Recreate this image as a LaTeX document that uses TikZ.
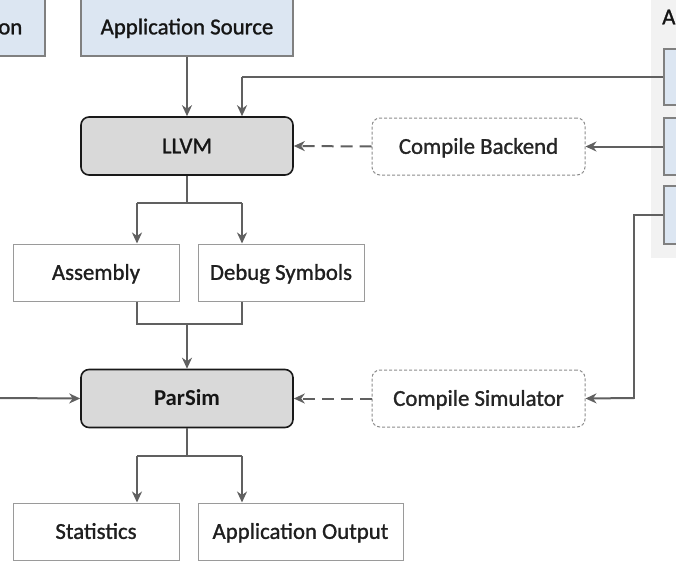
\documentclass[tikz,border=0pt]{standalone}
\usepackage{fontspec}
\setmainfont{Carlito}[UprightFeatures={RawFeature={embolden=1.2}}]
\usetikzlibrary{arrows.meta}
\definecolor{lineg}{HTML}{606060}
\definecolor{boxg}{HTML}{9A9A9A}
\definecolor{dboxg}{HTML}{8C8C8C}
\definecolor{blfill}{HTML}{DCE6F2}
\definecolor{blline}{HTML}{808080}
\definecolor{panel}{HTML}{F2F2F2}
\definecolor{coreg}{HTML}{D9D9D9}
\definecolor{txt}{HTML}{151515}
\begin{document}
\begin{tikzpicture}[x=1pt,y=-1pt,
  every node/.style={font=\fontsize{22.8}{27}\selectfont, text=txt, text height=14.7pt, text depth=0pt, inner sep=0pt},
  bluebox/.style={draw=blline, fill=blfill, line width=1.2pt, minimum width=212pt, minimum height=58pt},
  corebox/.style={draw=black!90, fill=coreg, line width=1.6pt, rounded corners=8pt, minimum width=212pt, minimum height=58pt},
  dashbox/.style={draw=dboxg, dash pattern=on 3pt off 2pt, line width=1pt, rounded corners=8pt, minimum width=213pt, minimum height=57pt, text=black!85},
  outbox/.style={draw=boxg, line width=1pt, minimum width=166pt, minimum height=57pt, text=black!88},
  arr/.style={draw=lineg, line width=2pt, -{Stealth[length=11pt,width=10pt,inset=3.5pt]}},
  darr/.style={arr, dash pattern=on 12pt off 7pt},
  thinl/.style={draw=lineg, line width=1.3pt},
]
\useasboundingbox (0,0) rectangle (676,562);
% right panel
\fill[panel] (651,-3) rectangle (680,258);
\node[anchor=west] (ptitle) at (662,17) {A};
\node[bluebox, minimum width=60pt, minimum height=56pt] (b1) at (694,77) {};
\node[bluebox, minimum width=60pt, minimum height=57pt] (b2) at (694,146.5) {};
\node[bluebox, minimum width=60pt, minimum height=58pt] (b3) at (694,215) {};
% left partial box
\node[bluebox, minimum width=150pt] (lbox) at (-30,27) {};
\node[anchor=east] (ltxt) at (22.5,27) {on};
% main column
\node[bluebox] (src) at (187,27) {Application Source};
\node[corebox] (llvm) at (187,146) {LLVM};
\node[dashbox] (cb) at (478.5,146.5) {Compile Backend};
\node[outbox] (asm) at (96,272.5) {Assembly};
\node[outbox] (dbg) at (281,272.5) {Debug Symbols};
\node[corebox, font=\fontsize{22.8}{27}\selectfont\bfseries] (ps) at (187,398.5) {ParSim};
\node[dashbox] (cs) at (478.5,398.5) {Compile Simulator};
\node[outbox] (st) at (96,531.5) {Statistics};
\node[outbox, minimum width=205pt] (ao) at (300.5,531.5) {Application Output};
% coordinates
\coordinate (c1) at (242,77);
\coordinate (s1) at (187,203);
\coordinate (s1l) at (137,203);
\coordinate (s1r) at (242,203);
\coordinate (j1) at (187,324);
\coordinate (j1l) at (137,324);
\coordinate (j1r) at (242,324);
\coordinate (s2) at (187,456);
\coordinate (s2l) at (137,456);
\coordinate (s2r) at (242,456);
\coordinate (k1) at (634,215);
\coordinate (k2) at (634,398);
\coordinate (lin) at (-3,398);
% connectors
\draw[arr] (src.south) -- (llvm.north);
\draw[thinl] (b1.west) -- (c1);
\draw[arr] (c1) -- (c1 |- llvm.north);
\draw[arr] (b2.west) -- (cb.east);
\draw[darr] (cb.west) -- (llvm.east);
\draw[thinl] (llvm.south) -- (s1);
\draw[thinl] (s1l) -- (s1r);
\draw[arr] (s1l) -- (s1l |- asm.north);
\draw[arr] (s1r) -- (s1r |- dbg.north);
\draw[thinl] (j1l |- asm.south) -- (j1l) -- (j1r) -- (j1r |- dbg.south);
\draw[arr] (j1) -- (ps.north);
\draw[arr] (lin) -- (ps.west);
\draw[darr] (cs.west) -- (ps.east);
\draw[thinl] (b3.west) -- (k1) -- ([yshift=-1pt]k2);
\draw[arr] (k2) -- (cs.east);
\draw[thinl] (ps.south) -- (s2);
\draw[thinl, line width=1.8pt] (s2l) -- (s2r);
\draw[arr] (s2l) -- (s2l |- st.north);
\draw[arr] (s2r) -- (s2r |- ao.north);
\end{tikzpicture}
\end{document}
